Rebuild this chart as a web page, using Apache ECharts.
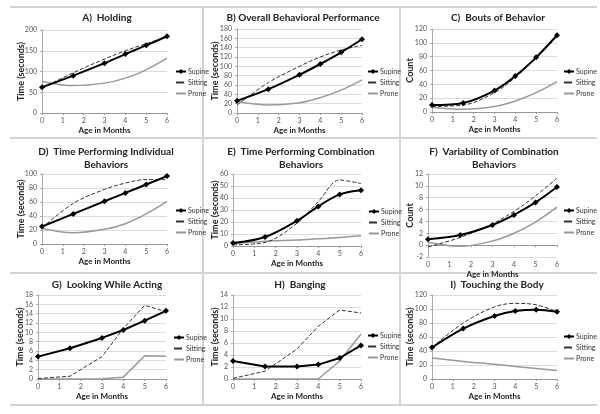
<!DOCTYPE html>
<html><head><meta charset="utf-8">
<script src="https://cdn.jsdelivr.net/npm/echarts@6/dist/echarts.min.js"></script>
<style>html,body{margin:0;padding:0;background:#fff}#c{width:600px;height:414px}</style>
</head><body><div id="c"></div>
<script>
// ---- data ----
const ages = [0, 1.5, 3, 4, 5, 6];
const seriesNames = ['Supine', 'Sitting', 'Prone'];
const panelTitles = ['A)  Holding', 'B) Overall Behavioral Performance', 'C)  Bouts of Behavior',
  'D)  Time Performing Individual\nBehaviors', 'E)  Time Performing Combination\nBehaviors',
  'F)  Variability of Combination\nBehaviors', 'G)  Looking While Acting', 'H)  Banging', 'I)  Touching the Body'];
const yNames = ['Time (seconds)', 'Time (seconds)', 'Count', 'Time (seconds)', 'Time (seconds)', 'Count',
  'Time (seconds)', 'Time (seconds)', 'Time (seconds)'];
const xName = 'Age in Months';
const yMins = [0, 0, 0, 0, 0, -2, 0, 0, 0];
const yMaxs = [200, 180, 120, 100, 60, 12, 18, 14, 120];
const yIntervals = [50, 20, 20, 20, 10, 2, 2, 2, 20];

const holdingSupine = [62, 90, 120, 142, 163, 185];
const holdingSitting = [60, 97, 130, 150, 167, 183];
const holdingProne = [76, 66, 72, 84, 104, 132];

const overallSupine = [26, 51, 82, 105, 130, 158];
const overallSitting = [17, 65, 100, 120, 135, 145];
const overallProne = [25, 17, 22, 33, 49, 71];

const boutsSupine = [10, 13, 31, 52, 79, 111];
const boutsSitting = [8, 10, 28, 50, 78, 110];
const boutsProne = [7, 4, 8, 16, 28, 44];

const individualSupine = [25, 43, 61, 73, 85, 97];
const individualSitting = [23, 58, 78, 87, 92, 92];
const individualProne = [22, 16, 21, 29, 43, 61];

const combinationSupine = [2.5, 7.5, 21, 33, 43, 46.5];
const combinationSitting = [1, 3, 19, 37, 55, 52];
const combinationProne = [2, 4, 5, 6, 7, 8.5];

const variabilitySupine = [1, 1.7, 3.4, 5.1, 7.2, 9.8];
const variabilitySitting = [-0.3, 1.3, 3.6, 5.7, 8.3, 11.3];
const variabilityProne = [0.5, -0.2, 0.7, 2, 3.9, 6.4];

const lookingSupine = [4.8, 6.6, 8.8, 10.5, 12.5, 14.6];
const lookingSitting = [0.1, 0.6, 4.8, 10.8, 15.8, 14.4];
const lookingProne = [0, 0, 0.05, 0.4, 5, 4.9];

const bangingSupine = [3, 2.1, 2.1, 2.4, 3.5, 5.6];
const bangingSitting = [0.1, 1.3, 5.0, 8.8, 11.5, 11.0];
const bangingProne = [0, 0, 0, 0, 3, 7.5];

const touchingSupine = [45, 72, 90, 97, 99, 96];
const touchingSitting = [45, 80, 103, 108, 106, 96];
const touchingProne = [30, 25, 21, 18, 15, 12];

const panelData = [
  [holdingSupine, holdingSitting, holdingProne],
  [overallSupine, overallSitting, overallProne],
  [boutsSupine, boutsSitting, boutsProne],
  [individualSupine, individualSitting, individualProne],
  [combinationSupine, combinationSitting, combinationProne],
  [variabilitySupine, variabilitySitting, variabilityProne],
  [lookingSupine, lookingSitting, lookingProne],
  [bangingSupine, bangingSitting, bangingProne],
  [touchingSupine, touchingSitting, touchingProne]
];
const smoothed = [true, true, true, true, true, true, false, false, true];

// ---- layout ----
const grids = [
  [42, 30, 125, 83], [237, 29, 125, 84], [432, 29, 125, 83],
  [42, 174, 125, 70], [233, 174, 128, 72], [428, 174, 129, 83],
  [38, 295, 128, 84], [233, 295, 128, 84], [432, 295, 125, 84]
];
const titlePos = [[107, 11], [303, 11], [498, 11], [106, 145], [301, 145], [494, 145], [107, 278], [300, 278], [497, 278]];
const legendPos = [[175, 68], [367, 68], [563, 68], [175, 207], [368, 208], [563, 207], [173, 334], [367, 332], [563, 333]];
const yNameGap = [16, 17, 17, 16, 13, 13, 13, 13, 17];

const FONT = 'Lato, "Open Sans", sans-serif';
const option = { animation: false, grid: [], xAxis: [], yAxis: [], series: [], legend: [], graphic: [] };

panelData.forEach((pd, i) => {
  const g = grids[i];
  option.grid.push({ left: g[0], top: g[1], width: g[2], height: g[3] });
  option.xAxis.push({
    gridIndex: i, type: 'value', min: 0, max: 6, interval: 1,
    name: xName, nameLocation: 'middle', nameGap: 13, nameMoveOverlap: false,
    nameTextStyle: { fontFamily: FONT, fontWeight: 'bold', fontSize: 8, color: '#222' },
    axisLine: { lineStyle: { color: '#999' } },
    axisTick: { show: true, length: 2, lineStyle: { color: '#999' } },
    axisLabel: { fontFamily: FONT, fontSize: 7, color: '#555', margin: 4 },
    splitLine: { show: false }
  });
  option.yAxis.push({
    gridIndex: i, type: 'value', min: yMins[i], max: yMaxs[i], interval: yIntervals[i],
    name: yNames[i], nameLocation: 'middle', nameGap: yNameGap[i], nameMoveOverlap: false,
    nameTextStyle: { fontFamily: FONT, fontWeight: 'bold', fontSize: 9, color: '#222' },
    axisLine: { show: true, lineStyle: { color: '#aaa' } },
    axisTick: { show: true, length: 2, lineStyle: { color: '#aaa' } },
    axisLabel: { fontFamily: FONT, fontSize: 7, color: '#555', margin: 5 },
    splitLine: { show: true, lineStyle: { color: '#dcdcdc', width: 1 } }
  });
  const styles = [
    { color: '#000', width: 2, type: 'solid', symbol: 'diamond', size: 6 },
    { color: '#333', width: 1, type: 'dashed', symbol: 'none', size: 0 },
    { color: '#999', width: 1.5, type: 'solid', symbol: 'none', size: 0 }
  ];
  pd.forEach((vals, k) => {
    const s = styles[k];
    option.series.push({
      name: seriesNames[k], type: 'line', xAxisIndex: i, yAxisIndex: i,
      data: ages.map((a, j) => [a, vals[j]]),
      smooth: smoothed[i] ? 0.35 : false,
      symbol: s.symbol, symbolSize: s.size, showSymbol: s.symbol !== 'none',
      itemStyle: { color: s.color },
      lineStyle: { color: s.color, width: s.width, type: s.type },
      z: 3 - k
    });
  });
  const hidden = { opacity: 0, color: 'rgba(0,0,0,0)', borderWidth: 0 };
  option.legend.push({
    left: legendPos[i][0], top: legendPos[i][1], orient: 'vertical', itemGap: 4,
    itemWidth: 10, itemHeight: 6, padding: 0,
    data: [{ name: 'Supine' }, { name: 'Sitting', itemStyle: hidden }, { name: 'Prone', itemStyle: hidden }],
    textStyle: { fontFamily: FONT, fontSize: 7, color: '#333', padding: [0, 0, 0, -3] }
  });
  option.graphic.push({
    type: 'text', x: titlePos[i][0], y: titlePos[i][1],
    style: { text: panelTitles[i], textAlign: 'center', fill: '#222',
      font: 'bold 10px ' + FONT, lineHeight: 13 }
  });
});

// panel separators
const sepColor = '#d4d4d4';
[7, 138, 273, 405].forEach(y => option.graphic.push({ type: 'line', shape: { x1: 10, y1: y, x2: 597, y2: y }, style: { stroke: sepColor, lineWidth: 2 }, silent: true }));
[203, 400].forEach(x => option.graphic.push({ type: 'line', shape: { x1: x, y1: 7, x2: x, y2: 405 }, style: { stroke: sepColor, lineWidth: 2 }, silent: true }));

const chart = echarts.init(document.getElementById('c'), null, { renderer: 'canvas' });
chart.setOption(option);
</script>
</body></html>
